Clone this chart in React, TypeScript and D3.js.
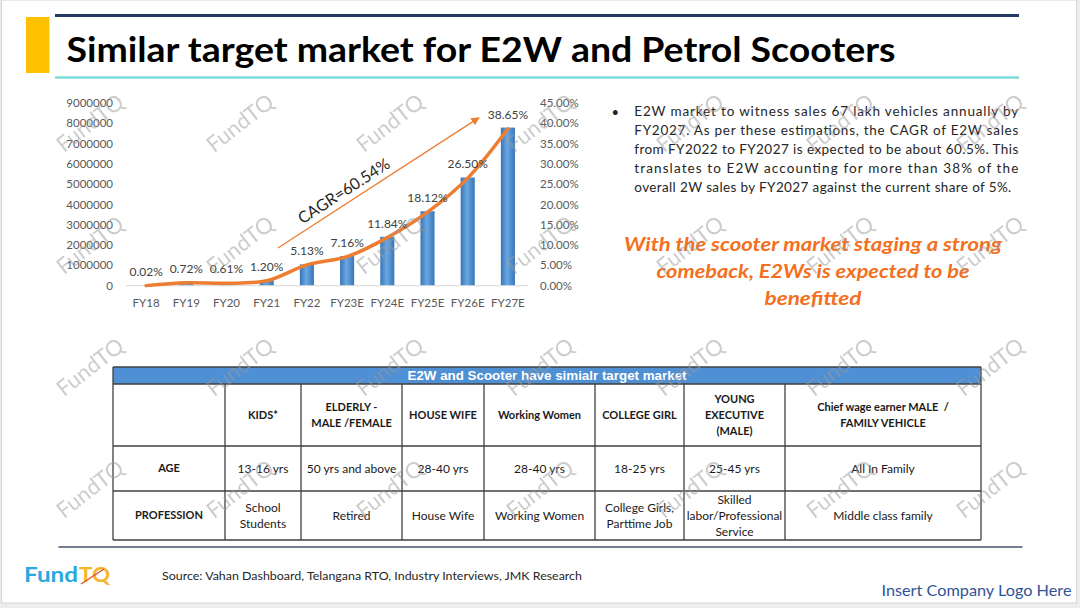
import React from "react";
import * as d3 from "d3";

// chart data
const categories = ["FY18", "FY19", "FY20", "FY21", "FY22", "FY23E", "FY24E", "FY25E", "FY26E", "FY27E"];
const salesUnits = [5000, 100000, 90000, 250000, 1050000, 1460000, 2410000, 3670000, 5330000, 7790000];
const sharePct = [0.02, 0.72, 0.61, 1.2, 5.13, 7.16, 11.84, 18.12, 26.5, 38.65];
const leftTicks = [0, 1000000, 2000000, 3000000, 4000000, 5000000, 6000000, 7000000, 8000000, 9000000];
const rightTicks = [0, 5, 10, 15, 20, 25, 30, 35, 40, 45];
const cagrLabel = "CAGR=60.54%";
const cagrFrom = { cat: "FY21", shift: 0.28, pct: 9.3 };
const cagrTo = { cat: "FY26E", shift: 0.28, pct: 41.4 };

// table data
const tableTitle = "E2W and Scooter have simialr target market";
const tableHeaders = [[""], ["KIDS*"], ["ELDERLY -", "MALE /FEMALE"], ["HOUSE WIFE"], ["Working Women"], ["COLLEGE GIRL"], ["YOUNG", "EXECUTIVE", "(MALE)"], ["Chief wage earner MALE  /", "FAMILY VEHICLE"]];
const ageRow = [["AGE"], ["13-16 yrs"], ["50 yrs and above"], ["28-40 yrs"], ["28-40 yrs"], ["18-25 yrs"], ["25-45 yrs"], ["All In Family"]];
const professionRow = [["PROFESSION"], ["School", "Students"], ["Retired"], ["House Wife"], ["Working Women"], ["College Girls,", "Parttime Job"], ["Skilled", "labor/Professional", "Service"], ["Middle class family"]];

// text
const title = "Similar target market for E2W and Petrol Scooters";
const bulletLines = [
  "E2W market to witness sales 67 lakh vehicles annually by",
  "FY2027. As per these estimations, the CAGR of E2W sales",
  "from FY2022 to FY2027 is expected to be about 60.5%. This",
  "translates to E2W accounting for more than 38% of the",
  "overall 2W sales by FY2027 against the current share of 5%.",
];
const calloutLines = ["With the scooter market staging a strong", "comeback, E2Ws is expected to be", "benefitted"];
const calloutWidths = [378, 313, 97];
const sourceText = "Source: Vahan Dashboard, Telangana RTO, Industry Interviews, JMK Research";

const W = 1080;
const H = 608;
const FONT = "Lato, 'Open Sans', sans-serif";
const colEdges = [113, 225, 301, 402, 484, 595, 684, 785, 981];
const rowEdges = [367, 384, 446, 491, 540];

export default function App() {
  const x = d3.scaleBand<string>().domain(categories).range([126, 528]).paddingInner(0.65).paddingOuter(0.325);
  const yL = d3.scaleLinear().domain([0, 9000000]).range([285.7, 103]);
  const yR = d3.scaleLinear().domain([0, 45]).range([285.7, 103]);
  const cx = (c: string) => (x(c) as number) + x.bandwidth() / 2;
  const fmtPct = (v: number) => v.toFixed(2) + "%";

  const linePath = d3
    .line<number>()
    .x((_, i) => cx(categories[i]))
    .y((d) => yR(d))
    .curve(d3.curveCatmullRom.alpha(0.5))(sharePct) as string;

  const ax = (p: { cat: string; shift: number }) => cx(p.cat) + p.shift * x.step();
  const x1 = ax(cagrFrom), y1 = yR(cagrFrom.pct);
  const x2 = ax(cagrTo), y2 = yR(cagrTo.pct);
  const ang = Math.atan2(y2 - y1, x2 - x1);
  const lx = x1 + (x2 - x1) * 0.36 + Math.sin(ang) * 12;
  const ly = y1 + (y2 - y1) * 0.36 - Math.cos(ang) * 12;

  const wmCols = d3.range(7);
  const wmRows = d3.range(4);

  const cellText = (lines: string[], ci: number, ri: number, bold: boolean) => {
    const mx = (colEdges[ci] + colEdges[ci + 1]) / 2;
    const my = (rowEdges[ri] + rowEdges[ri + 1]) / 2;
    const lh = 16.2;
    return lines.map((t, k) => (
      <text
        key={`${ci}-${ri}-${k}`}
        x={mx}
        y={my + (k - (lines.length - 1) / 2) * lh}
        dy="0.35em"
        textAnchor="middle"
        fontSize={bold ? 11 : 12}
        fontWeight={bold ? 700 : 400}
        fill="#1a1a1a"
        style={{ whiteSpace: "pre" }}
      >
        {t}
      </text>
    ));
  };

  return (
    <svg width={W} height={H} style={{ position: "absolute", left: 0, top: 0, display: "block" }} fontFamily={FONT}>
      <defs>
        <linearGradient id="barGrad" x1="0" x2="1" y1="0" y2="0">
          <stop offset="0%" stopColor="#3775b9" />
          <stop offset="45%" stopColor="#6aa8e2" />
          <stop offset="100%" stopColor="#3775b9" />
        </linearGradient>
        <marker id="arrowHead" viewBox="0 0 10 10" refX="9" refY="5" markerWidth="6.5" markerHeight="6.5" orient="auto">
          <path d="M0,0 L10,5 L0,10 z" fill="#ED7D31" />
        </marker>
      </defs>

      <rect x={0} y={0} width={W} height={H} fill="#ededed" />
      <rect x={1.5} y={0} width={1075} height={603} fill="#ffffff" stroke="#d4d4d4" strokeWidth={1} />

      {/* header */}
      <line x1={55} x2={1019} y1={15.5} y2={15.5} stroke="#243a63" strokeWidth={3} />
      <rect x={26} y={17} width={23.5} height={56} fill="#FFC000" />
      <text x={66.5} y={61.5} fontSize={35} fontWeight={700} fill="#000" textLength={829} lengthAdjust="spacingAndGlyphs">
        {title}
      </text>
      <line x1={55} x2={1019} y1={77.5} y2={77.5} stroke="#7fd9d9" strokeWidth={2.5} />

      {/* chart */}
      <g>
        {salesUnits.map((v, i) => (
          <rect key={categories[i]} x={x(categories[i])} y={yL(v)} width={x.bandwidth()} height={yL(0) - yL(v)} fill="url(#barGrad)" />
        ))}
        <line x1={126} x2={528} y1={yL(0)} y2={yL(0)} stroke="#d9d9d9" strokeWidth={1} />
        {leftTicks.map((t) => (
          <text key={t} x={113} y={yL(t)} dy="0.35em" textAnchor="end" fontSize={11.5} fill="#595959">
            {t}
          </text>
        ))}
        {rightTicks.map((t) => (
          <text key={t} x={540} y={yR(t)} dy="0.35em" textAnchor="start" fontSize={11.5} fill="#595959">
            {fmtPct(t)}
          </text>
        ))}
        {categories.map((c) => (
          <text key={c} x={cx(c)} y={302.5} dy="0.35em" textAnchor="middle" fontSize={11.5} fill="#595959">
            {c}
          </text>
        ))}
        <path d={linePath} fill="none" stroke="#ED7D31" strokeWidth={3.5} strokeLinecap="round" />
        {sharePct.map((v, i) => (
          <text key={i} x={cx(categories[i])} y={yR(v) - 14} dy="0.35em" textAnchor="middle" fontSize={12} fill="#404040">
            {fmtPct(v)}
          </text>
        ))}
        <line x1={x1} y1={y1} x2={x2} y2={y2} stroke="#ED7D31" strokeWidth={1.3} markerEnd="url(#arrowHead)" />
        <text
          x={lx}
          y={ly}
          dy="0.35em"
          textAnchor="middle"
          fontSize={16}
          fill="#262626"
          transform={`rotate(${(ang * 180) / Math.PI} ${lx} ${ly})`}
        >
          {cagrLabel}
        </text>
      </g>

      {/* bullet text */}
      <text x={611.5} y={112.5} dy="0.35em" fontSize={13} fill="#262626">•</text>
      {bulletLines.map((t, i) => (
        <text
          key={i}
          x={634.3}
          y={111.7 + 19 * i}
          dy="0.35em"
          fontSize={13.5}
          fill="#262626"
          textLength={i < bulletLines.length - 1 ? 384 : 377}
          lengthAdjust="spacing"
        >
          {t}
        </text>
      ))}
      {calloutLines.map((t, i) => (
        <text
          key={i}
          x={813}
          y={245 + 26.7 * i}
          dy="0.35em"
          textAnchor="middle"
          fontSize={18}
          fontWeight={700}
          fontStyle="italic"
          fill="#F37021"
          textLength={calloutWidths[i]}
          lengthAdjust="spacingAndGlyphs"
        >
          {t}
        </text>
      ))}

      {/* table */}
      <g>
        <rect x={colEdges[0]} y={rowEdges[0]} width={colEdges[8] - colEdges[0]} height={rowEdges[1] - rowEdges[0]} fill="#4f8fd3" />
        <text
          x={(colEdges[0] + colEdges[8]) / 2}
          y={(rowEdges[0] + rowEdges[1]) / 2}
          dy="0.35em"
          textAnchor="middle"
          fontFamily="'Liberation Sans', Arial, sans-serif"
          fontSize={13}
          fontWeight={700}
          fill="#ffffff"
          textLength={279}
          lengthAdjust="spacingAndGlyphs"
        >
          {tableTitle}
        </text>
        {tableHeaders.map((lines, ci) => cellText(lines, ci, 1, true))}
        {ageRow.map((lines, ci) => cellText(lines, ci, 2, ci === 0))}
        {professionRow.map((lines, ci) => cellText(lines, ci, 3, ci === 0))}
        {rowEdges.map((ry, i) => (
          <line key={`r${i}`} x1={colEdges[0]} x2={colEdges[8]} y1={ry} y2={ry} stroke="#404040" strokeWidth={1.3} />
        ))}
        {colEdges.map((cxe, i) => (
          <line
            key={`c${i}`}
            x1={cxe}
            x2={cxe}
            y1={i === 0 || i === colEdges.length - 1 ? rowEdges[0] : rowEdges[1]}
            y2={rowEdges[4]}
            stroke="#404040"
            strokeWidth={1.3}
          />
        ))}
      </g>

      {/* footer */}
      <line x1={58.5} x2={1022.5} y1={547} y2={547} stroke="#44546a" strokeWidth={1.5} />
      <text x={24} y={582} fontSize={21} fontWeight={700} fill="#29a8df" textLength={54} lengthAdjust="spacingAndGlyphs">
        Fund
      </text>
      <text x={79} y={582} fontSize={21} fontWeight={700} fill="#f7b52c" textLength={31} lengthAdjust="spacingAndGlyphs">
        TQ
      </text>
      <line x1={81} y1={584} x2={104} y2={569} stroke="#e0502a" strokeWidth={1.3} />
      <text x={162} y={575.7} dy="0.35em" fontSize={11.5} fill="#262626" textLength={420} lengthAdjust="spacingAndGlyphs">
        {sourceText}
      </text>
      <text x={881.5} y={590} dy="0.35em" fontSize={16} fill="#2f5496" textLength={190} lengthAdjust="spacingAndGlyphs">
        Insert Company Logo Here
      </text>

      {/* watermark */}
      <g opacity={0.5} pointerEvents="none">
        {wmRows.map((r) =>
          wmCols.map((c) => {
            const wx = 90 + 150 * c;
            const wy = 123 + 122 * r;
            return (
              <text
                key={`${r}-${c}`}
                x={wx}
                y={wy}
                dy="0.35em"
                textAnchor="middle"
                fontSize={22}
                fill="#9a9a9a"
                transform={`rotate(-38 ${wx} ${wy})`}
              >
                FundTQ
              </text>
            );
          })
        )}
      </g>
    </svg>
  );
}
